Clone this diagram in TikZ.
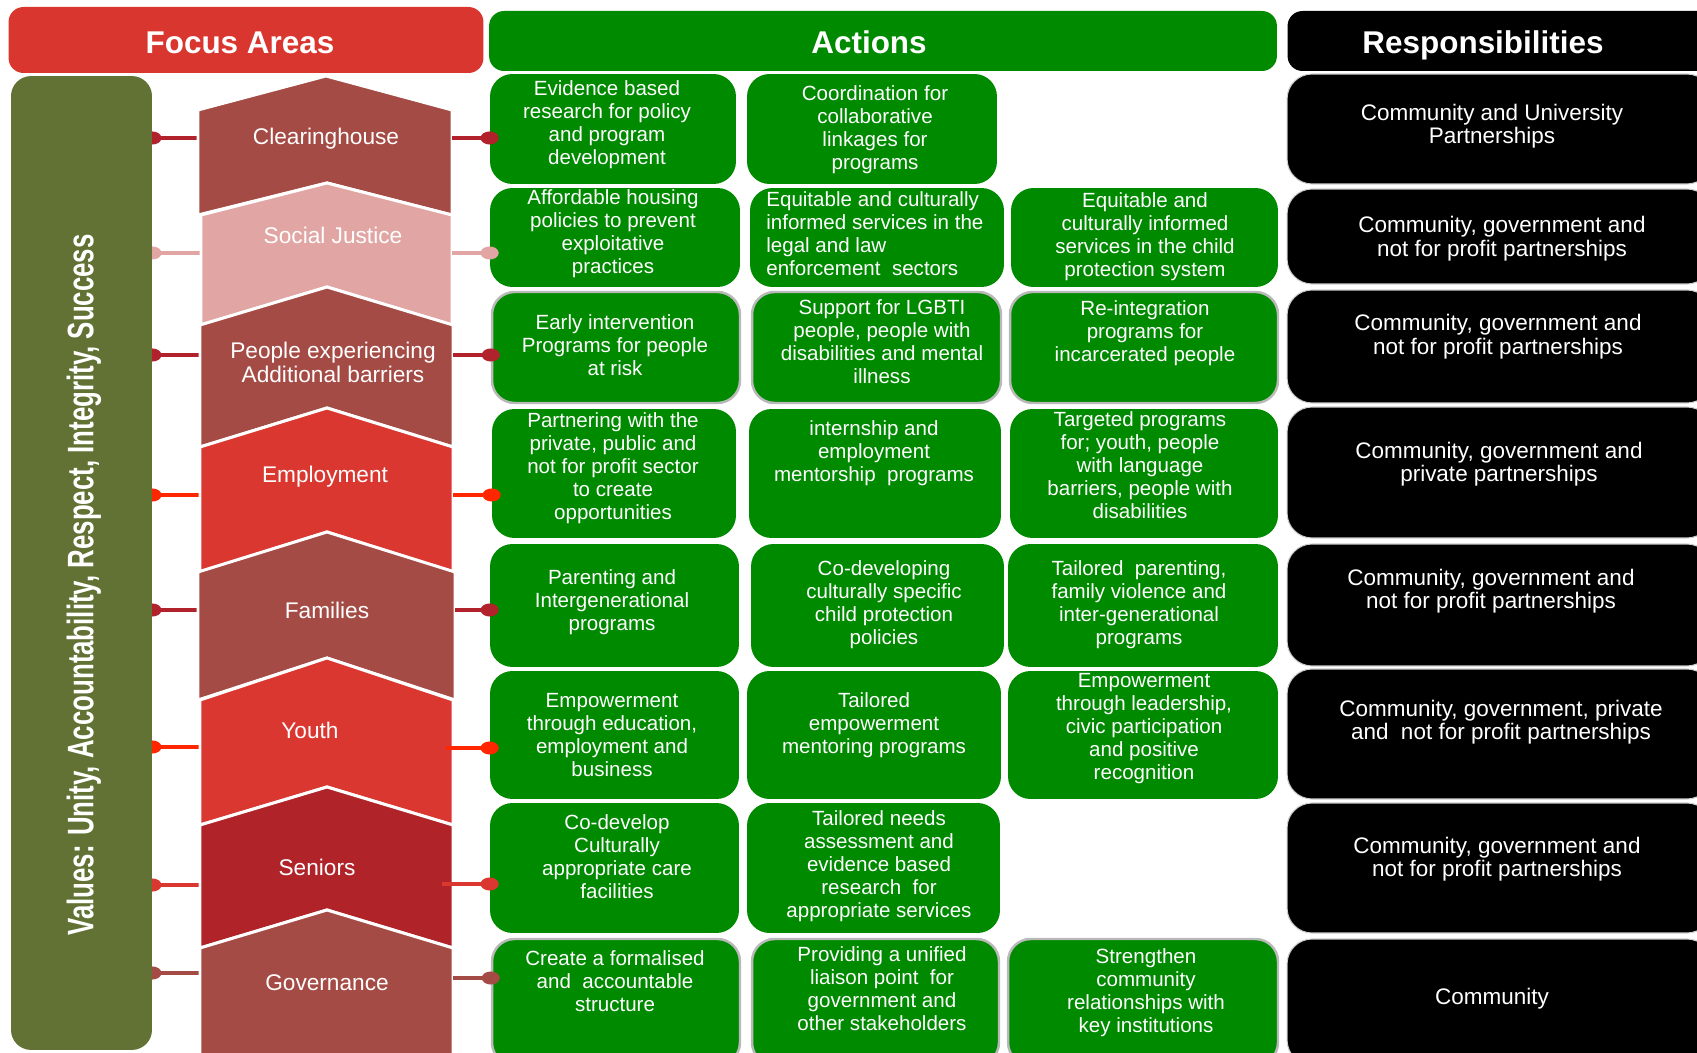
\documentclass[tikz,border=0pt]{standalone}
\usepackage{fontspec}
\setmainfont{Liberation Sans}
\newfontfamily\narrowfont[FakeStretch=0.7]{Liberation Sans}
\usetikzlibrary{arrows.meta,backgrounds}

\definecolor{fared}{RGB}{218,54,48}
\definecolor{actgreen}{RGB}{0,138,0}
\definecolor{valolive}{RGB}{97,114,52}
\definecolor{chbrown}{RGB}{165,75,69}
\definecolor{chpink}{RGB}{225,166,164}
\definecolor{chred}{RGB}{218,55,48}
\definecolor{chdark}{RGB}{175,35,41}
\definecolor{lkdark}{RGB}{178,34,45}
\definecolor{lkbright}{RGB}{255,38,0}

\tikzset{
  hdr/.style={rounded corners=0.3cm, inner sep=0, minimum height=1.2cm},
  hdrtxt/.style={text=white, inner sep=0, anchor=base, font=\bfseries\fontsize{17.9}{20}\selectfont},
  chev/.style={fill=#1, draw=white, line width=1.7pt},
  chtxt/.style={text=white, align=center, inner sep=0, font=\fontsize{12.9}{13.7}\selectfont},
  gbox/.style={fill=actgreen, rounded corners=0.45cm, inner sep=0},
  gline/.style={draw=gray!55, line width=1.4pt},
  gtxt/.style={text=white, align=center, inner sep=0, font=\fontsize{11.7}{13.1}\selectfont},
  rbox/.style={fill=black, draw=gray!40, line width=0.6pt, rounded corners=0.5cm, inner sep=0, minimum width=8.5cm},
  rtxt/.style={text=white, align=center, inner sep=0, font=\fontsize{12.8}{13.3}\selectfont},
  lnk/.style={draw=#1, line width=2.3pt},
  dotL/.style={{Ellipse[length=10.2pt,width=7.4pt]}-, shorten <=-5.1pt},
  dotR/.style={-{Ellipse[length=10.2pt,width=7.4pt]}, shorten >=-5.1pt},
}

\begin{document}
\begin{tikzpicture}[x=0.02cm, y=-0.02cm]
\useasboundingbox (0,0) rectangle (1697,1053);

% values bar
\node[fill=valolive, rounded corners=0.4cm, inner sep=0, minimum width=2.82cm, minimum height=19.48cm] (vals) at (81.5,563) {};
\node[text=white, rotate=90, inner sep=0, font=\narrowfont\bfseries\fontsize{21}{24}\selectfont] (valtxt) at (84,585) {Values: Unity, Accountability, Respect, Integrity, Success};

% headers
\node[hdr, fill=fared, minimum width=9.5cm, minimum height=1.32cm] (hfoc) at (246,40) {};
\node[hdrtxt] (hfoct) at (240,54) {Focus Areas};
\node[hdr, fill=actgreen, minimum width=15.76cm] (hact) at (883,41) {};
\node[hdrtxt] (hactt) at (869,54) {Actions};
\node[hdr, fill=black, minimum width=8.5cm] (hres) at (1500,41) {};
\node[hdrtxt] (hrest) at (1483,54) {Responsibilities};

% focus area chevrons
\path[chev=chbrown] (198,110) -- (326,76) -- (452,110) -- (452,215) -- (327,183) -- (198,215) -- cycle;
\path[chev=chpink] (201,215) -- (327,183) -- (452,215) -- (452,325) -- (327,287) -- (201,325) -- cycle;
\path[chev=chbrown] (200,325) -- (327,287) -- (453,325) -- (453,447) -- (327,408) -- (200,447) -- cycle;
\path[chev=chred] (200,447) -- (327,408) -- (453,447) -- (453,572) -- (327,532) -- (200,572) -- cycle;
\path[chev=chbrown] (198,572) -- (327,532) -- (455,572) -- (455,700) -- (327,658) -- (198,700) -- cycle;
\path[chev=chred] (200,700) -- (327,658) -- (453,700) -- (453,825) -- (327,787) -- (200,825) -- cycle;
\path[chev=chdark] (200,825) -- (327,787) -- (453,825) -- (453,948) -- (327,910) -- (200,948) -- cycle;
\path[chev=chbrown] (200,948) -- (327,910) -- (453,948) -- (453,1070) -- (200,1070) -- cycle;

\node[chtxt] (clr) at (326,139) {Clearinghouse};
\node[chtxt] (soc) at (333,235) {Social Justice};
\node[chtxt] (ppl) at (333,362) {People experiencing\\Additional barriers};
\node[chtxt] (emp) at (325,477) {Employment};
\node[chtxt] (fam) at (327,610) {Families};
\node[chtxt] (yth) at (310,730) {Youth};
\node[chtxt] (sen) at (317,867) {Seniors};
\node[chtxt] (gov) at (327,983) {Governance};

\coordinate (clrW) at (198,138); \coordinate (clrE) at (452,138);
\coordinate (socW) at (201,253); \coordinate (socE) at (452,253);
\coordinate (pplW) at (200,355); \coordinate (pplE) at (453,355);
\coordinate (empW) at (200,495); \coordinate (empE) at (453,495);
\coordinate (famW) at (198,610); \coordinate (famE) at (455,610);
\coordinate (ythW) at (200,747); \coordinate (ythE) at (446,748);
\coordinate (senW) at (200,885); \coordinate (senE) at (442,884);
\coordinate (govW) at (200,973); \coordinate (govE) at (453,978);

\begin{scope}[on background layer]
\draw[lnk=lkdark, dotL] (vals.east |- clrW) -- (clrW);
\draw[lnk=chpink, dotL] (vals.east |- socW) -- (socW);
\draw[lnk=lkdark, dotL] (vals.east |- pplW) -- (pplW);
\draw[lnk=lkbright, dotL] (vals.east |- empW) -- (empW);
\draw[lnk=lkdark, dotL] (vals.east |- famW) -- (famW);
\draw[lnk=lkbright, dotL] (vals.east |- ythW) -- (ythW);
\draw[lnk=chred, dotL] (vals.east |- senW) -- (senW);
\draw[lnk=chbrown, dotL] (vals.east |- govW) -- (govW);
\end{scope}

% row 1
\node[gbox, minimum width=4.92cm, minimum height=2.2cm] (a11) at (613,129) {};
\node[gtxt] (a11t) at (607,125) {Evidence based\\research for policy\\and program\\development};
\node[gbox, minimum width=5cm, minimum height=2.2cm] (a12) at (872,129) {};
\node[gtxt] (a12t) at (875,130) {Coordination for\\collaborative\\linkages for\\programs};
\node[rbox, minimum height=2.2cm] (r1) at (1499.5,129) {};
\node[rtxt] (r1t) at (1492,126) {Community and University\\Partnerships};

% row 2
\node[gbox, minimum width=5cm, minimum height=1.98cm] (a21) at (615,237.5) {};
\node[gtxt] (a21t) at (613,234) {Affordable housing\\policies to prevent\\exploitative\\practices};
\node[gbox, minimum width=5.08cm, minimum height=1.98cm] (a22) at (877,237.5) {};
\node[gtxt, align=left, anchor=west] (a22t) at (766,234) {Equitable and culturally\\informed services in the\\legal and law\\enforcement\ \ sectors};
\node[gbox, minimum width=5.34cm, minimum height=1.98cm] (a23) at (1144.5,237.5) {};
\node[gtxt] (a23t) at (1145,237) {Equitable and\\culturally informed\\services in the child\\protection system};
\node[rbox, minimum height=1.9cm] (r2) at (1499.5,236.5) {};
\node[rtxt] (r2t) at (1502,238.6) {Community, government and\\not for profit partnerships};

% row 3
\node[gbox, gline, minimum width=4.96cm, minimum height=2.22cm] (a31) at (616,347.5) {};
\node[gtxt] (a31t) at (615,345) {Early intervention\\Programs for people\\at risk};
\node[gbox, gline, minimum width=4.98cm, minimum height=2.22cm] (a32) at (876.5,347.5) {};
\node[gtxt] (a32t) at (882,341.5) {Support for LGBTI\\people, people with\\disabilities and mental\\illness};
\node[gbox, gline, minimum width=5.36cm, minimum height=2.22cm] (a33) at (1144,347.5) {};
\node[gtxt] (a33t) at (1145,333) {Re-integration\\programs for\\incarcerated people};
\node[rbox, minimum height=2.26cm] (r3) at (1499.5,346.5) {};
\node[rtxt] (r3t) at (1498,336.6) {Community, government and\\not for profit partnerships};

% row 4
\node[gbox, minimum width=4.88cm, minimum height=2.58cm] (a41) at (614,473.5) {};
\node[gtxt] (a41t) at (613,468.6) {Partnering with the\\private, public and\\not for profit sector\\to create\\opportunities};
\node[gbox, minimum width=5.04cm, minimum height=2.58cm] (a42) at (875,473.5) {};
\node[gtxt] (a42t) at (874,453) {internship and\\employment\\mentorship\ \ programs};
\node[gbox, minimum width=5.36cm, minimum height=2.58cm] (a43) at (1144,473.5) {};
\node[gtxt] (a43t) at (1140,465) {Targeted programs\\for; youth, people\\with language\\barriers, people with\\disabilities};
\node[rbox, minimum height=2.62cm] (r4) at (1499.5,472.5) {};
\node[rtxt] (r4t) at (1499,464) {Community, government and\\private partnerships};

% row 5
\node[gbox, minimum width=4.98cm, minimum height=2.46cm] (a51) at (614.5,605.5) {};
\node[gtxt] (a51t) at (612,602) {Parenting and\\Intergenerational\\programs};
\node[gbox, minimum width=5.06cm, minimum height=2.46cm] (a52) at (877.5,605.5) {};
\node[gtxt] (a52t) at (884,604.5) {Co-developing\\culturally specific\\child protection\\policies};
\node[gbox, minimum width=5.4cm, minimum height=2.46cm] (a53) at (1143,605.5) {};
\node[gtxt] (a53t) at (1139,605) {Tailored\ \ parenting,\\family violence and\\inter-generational\\programs};
\node[rbox, minimum height=2.44cm] (r5) at (1499.5,605) {};
\node[rtxt] (r5t) at (1491,591.5) {Community, government and\\not for profit partnerships};

% row 6
\node[gbox, minimum width=4.98cm, minimum height=2.56cm] (a61) at (614.5,735) {};
\node[gtxt] (a61t) at (612,735) {Empowerment\\through education,\\employment and\\business};
\node[gbox, minimum width=5.08cm, minimum height=2.56cm] (a62) at (874,735) {};
\node[gtxt] (a62t) at (874,725) {Tailored\\empowerment\\mentoring programs};
\node[gbox, minimum width=5.4cm, minimum height=2.56cm] (a63) at (1143,735) {};
\node[gtxt] (a63t) at (1144,729) {Empowerment\\through leadership,\\civic participation\\and positive\\recognition};
\node[rbox, minimum height=2.6cm] (r6) at (1499.5,734) {};
\node[rtxt] (r6t) at (1501,722.5) {Community, government, private\\and\ \ not for profit partnerships};

% row 7
\node[gbox, minimum width=4.98cm, minimum height=2.6cm] (a71) at (614.5,868) {};
\node[gtxt] (a71t) at (617,857) {Co-develop\\Culturally\\appropriate care\\facilities};
\node[gbox, minimum width=5.06cm, minimum height=2.6cm] (a72) at (873.5,868) {};
\node[gtxt] (a72t) at (879,866) {Tailored needs\\assessment and\\evidence based\\research\ \ for\\appropriate services};
\node[rbox, minimum height=2.6cm] (r7) at (1499.5,868) {};
\node[rtxt] (r7t) at (1497,859) {Community, government and\\not for profit partnerships};

% row 8
\node[gbox, gline, minimum width=4.96cm, minimum height=2.52cm] (a81) at (616,1002) {};
\node[gtxt] (a81t) at (615,981.6) {Create a formalised\\and\ \ accountable\\structure};
\node[gbox, gline, minimum width=4.94cm, minimum height=2.52cm] (a82) at (875.5,1002) {};
\node[gtxt] (a82t) at (882,989) {Providing a unified\\liaison point\ \ for\\government and\\other stakeholders};
\node[gbox, gline, minimum width=5.4cm, minimum height=2.52cm] (a83) at (1143,1002) {};
\node[gtxt] (a83t) at (1146,992.5) {Strengthen\\community\\relationships with\\key institutions};
\node[rbox, minimum height=2.52cm] (r8) at (1499.5,1002) {};
\node[rtxt] (r8t) at (1492,999) {Community};

% links to actions
\draw[lnk=lkdark, dotR] (clrE) -- (a11.west |- clrE);
\draw[lnk=chpink, dotR] (socE) -- (a21.west |- socE);
\draw[lnk=lkdark, dotR] (pplE) -- (a31.west |- pplE);
\draw[lnk=lkbright, dotR] (empE) -- (a41.west |- empE);
\draw[lnk=lkdark, dotR] (famE) -- (a51.west |- famE);
\draw[lnk=lkbright, dotR] (ythE) -- (a61.west |- ythE);
\draw[lnk=chred, dotR] (senE) -- (a71.west |- senE);
\draw[lnk=chbrown, dotR] (govE) -- (a81.west |- govE);
\end{tikzpicture}
\end{document}
